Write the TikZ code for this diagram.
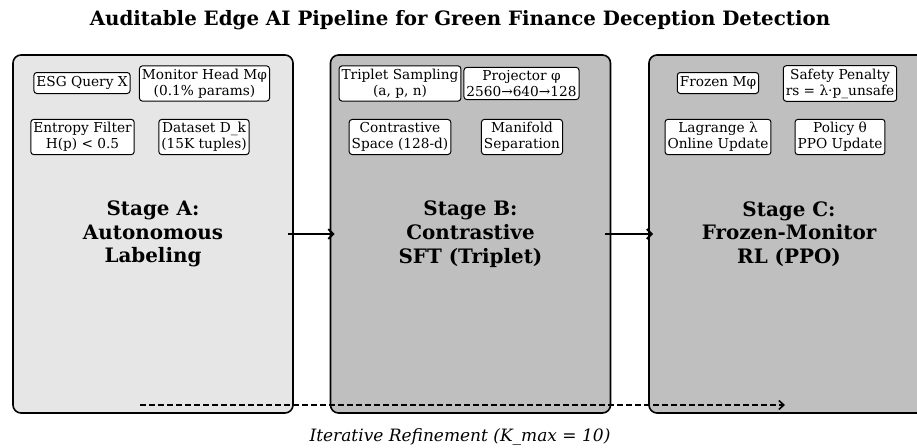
\documentclass[tikz,border=0pt]{standalone}
\usepackage{fontspec}
\setmainfont{DejaVu Serif}
\usetikzlibrary{arrows.meta}
\definecolor{stagelight}{HTML}{E6E6E6}
\definecolor{stagedark}{HTML}{BFBFBF}
\tikzstyle{stage}=[draw, line width=1.6pt, rounded corners=8pt, minimum width=280pt, minimum height=358pt, align=center, font=\fontsize{19.9}{23.8}\selectfont\bfseries]
\tikzstyle{subbox}=[draw, fill=white, line width=1pt, rounded corners=3pt, inner xsep=2.5pt, inner ysep=3pt, minimum height=21pt, align=center, font=\fontsize{13.7}{16}\selectfont]
\tikzstyle{flow}=[line width=2pt, -{Straight Barb[length=5pt,width=10pt]}]
\tikzstyle{loop}=[line width=1.6pt, dash pattern=on 6pt off 3pt, -{Straight Barb[length=5pt,width=9pt]}]
\newcommand{\subbox}{\node[subbox]}
\begin{document}
\begin{tikzpicture}[x=1pt,y=-1pt]
            \useasboundingbox (0,0) rectangle (917,447);
            \node[font=\fontsize{19.8}{23}\selectfont\bfseries] (title) at (460,20) {Auditable Edge AI Pipeline for Green Finance Deception Detection};
            % stages
            \node[stage, fill=stagelight] (stageA) at (153,234) {Stage A:\\Autonomous\\Labeling};
            \node[stage, fill=stagedark] (stageB) at (470.5,234) {Stage B:\\Contrastive\\SFT (Triplet)};
            \node[stage, fill=stagedark] (stageC) at (789,234) {Stage C:\\Frozen-Monitor\\RL (PPO)};
            % stage A items
            \subbox (query) at (82,83) {ESG Query X};
            \subbox (monitor) at (204.5,83.5) {Monitor Head Mφ\\(0.1\% params)};
            \subbox (entropy) at (82.5,137) {Entropy Filter\\H(p) < 0.5};
            \subbox (dataset) at (204,137) {Dataset D\_k\\(15K tuples)};
            % stage B items
            \subbox (triplet) at (400,83.5) {Triplet Sampling\\(a, p, n)};
            \subbox (projector) at (521.5,83.5) {Projector φ\\2560→640→128};
            \subbox (space) at (400,137) {Contrastive\\Space (128-d)};
            \subbox (manifold) at (522,137) {Manifold\\Separation};
            % stage C items
            \subbox (frozen) at (718,83) {Frozen Mφ};
            \subbox (penalty) at (840,83.5) {Safety Penalty\\rs = λ·p\_unsafe};
            \subbox (lagrange) at (718,137) {Lagrange λ\\Online Update};
            \subbox (policy) at (840,137) {Policy θ\\PPO Update};
            % flow between stages
            \draw[flow] ([xshift=-6pt]stageA.east) -- ([xshift=5pt]stageB.west);
            \draw[flow] ([xshift=-6pt]stageB.east) -- ([xshift=5pt]stageC.west);
            % refinement loop
            \coordinate (loopS) at (140,405);
            \coordinate (loopE) at (785,405);
            \draw[loop] (loopS) -- (loopE);
            \node[font=\fontsize{17}{20}\selectfont\itshape] (refine) at (460,437) {Iterative Refinement (K\_max = 10)};
        \end{tikzpicture}
\end{document}
